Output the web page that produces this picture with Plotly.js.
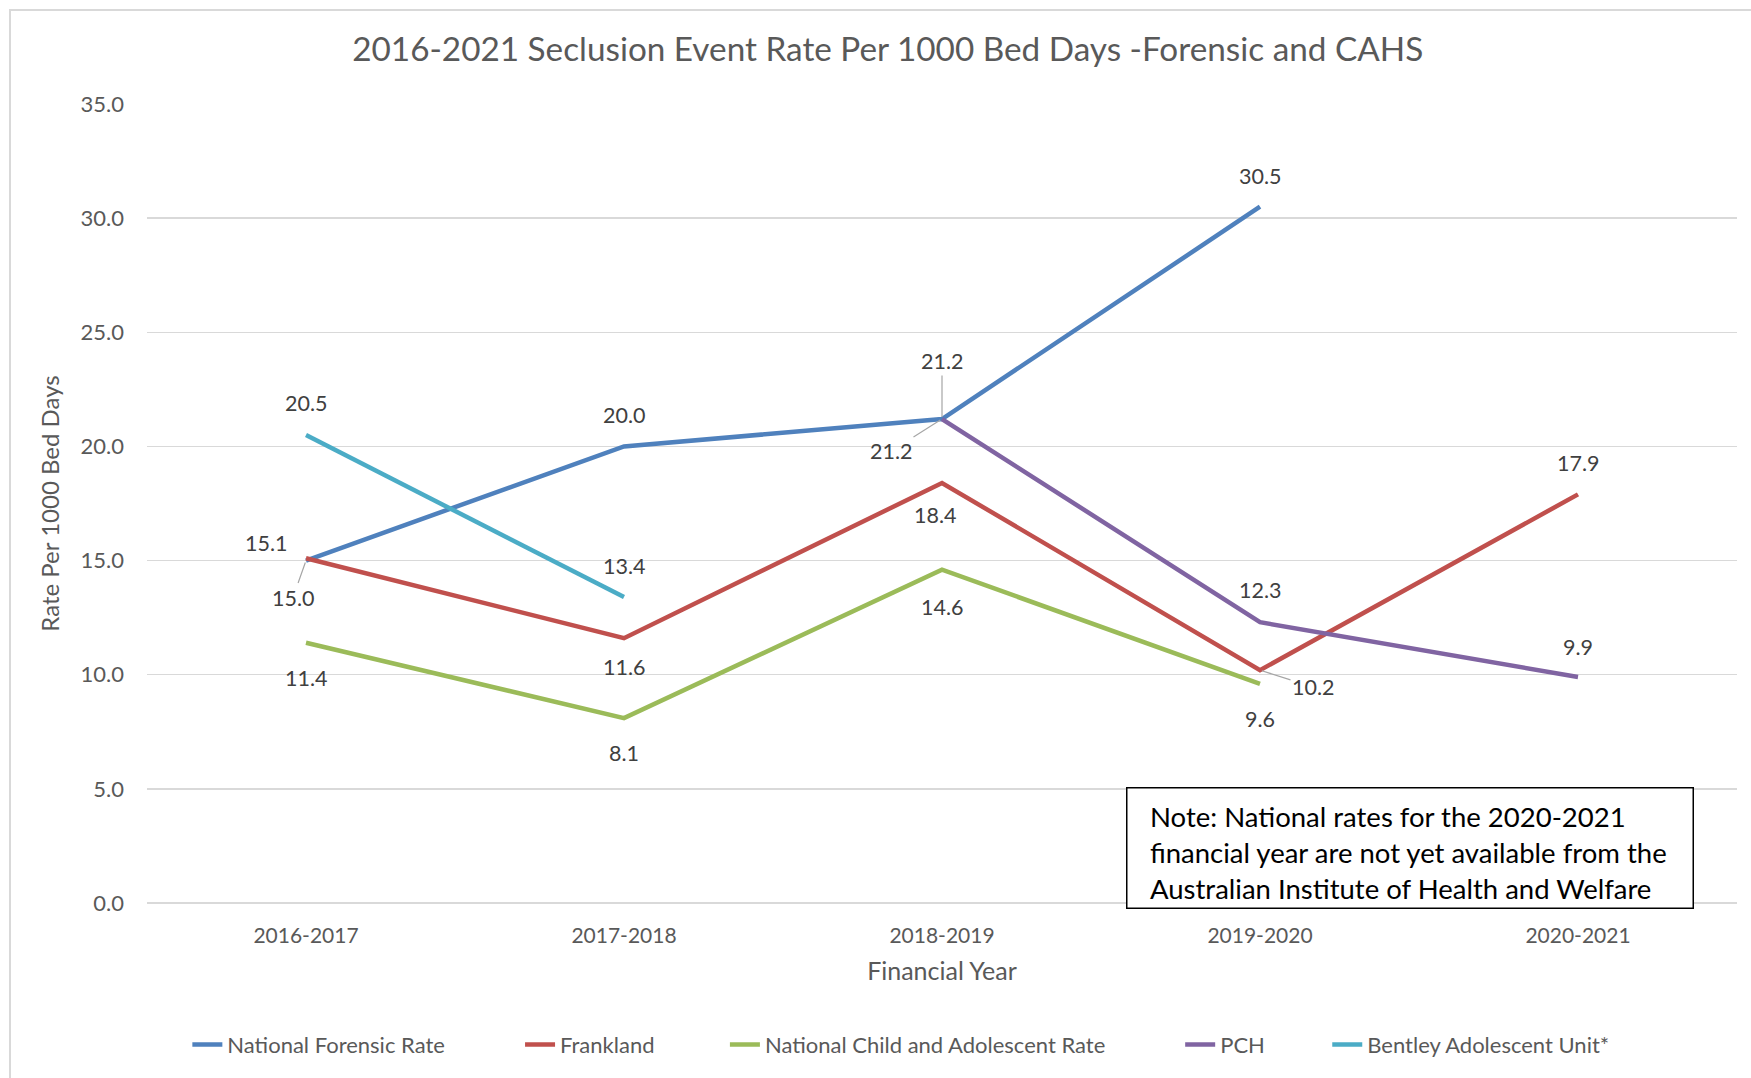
<!DOCTYPE html>
<html>
<head>
<meta charset="utf-8">
<script src="https://cdn.plot.ly/plotly-3.0.1.min.js"></script>
<style>
  html, body { margin: 0; padding: 0; background: #ffffff; }
  #wrap { position: relative; width: 1751px; height: 1078px; overflow: hidden; }
  #chart { width: 1751px; height: 1078px; }
  #frame { position: absolute; left: 9px; top: 9px; width: 1800px; height: 1200px;
           border: 2px solid #d9d9d9; box-sizing: border-box; pointer-events: none; }
</style>
</head>
<body>
<div id="wrap">
  <div id="chart"></div>
  <div id="frame"></div>
</div>
<script>
// ---- Data ----
const categories = ['2016-2017', '2017-2018', '2018-2019', '2019-2020', '2020-2021'];
const nationalForensicRate = [15.0, 20.0, 21.2, 30.5, null];
const frankland = [15.1, 11.6, 18.4, 10.2, 17.9];
const nationalChildAdolescentRate = [11.4, 8.1, 14.6, 9.6, null];
const pch = [null, null, 21.2, 12.3, 9.9];
const bentleyAdolescentUnit = [20.5, 13.4, null, null, null];
const seriesNames = ['National Forensic Rate', 'Frankland', 'National Child and Adolescent Rate', 'PCH', 'Bentley Adolescent Unit*'];
const titleText = '2016-2021 Seclusion Event Rate Per 1000 Bed Days -Forensic and CAHS';
const xTitle = 'Financial Year';
const yTitle = 'Rate Per 1000 Bed Days';
const noteText = 'Note: National rates for the 2020-2021<br>financial year are not yet available from the<br>Australian Institute of Health and Welfare';

// ---- Styles ----
const seriesValues = [nationalForensicRate, frankland, nationalChildAdolescentRate, pch, bentleyAdolescentUnit];
const colors = ['#4F81BD', '#C0504D', '#9BBB59', '#8064A2', '#4BACC6'];
const FONT = 'Lato, "Open Sans", sans-serif';
// left edge of each legend entry (fraction of the figure width)
const legendX = [0.107, 0.297, 0.414, 0.674, 0.758];

// label offsets in pixels [dx, dy(down), leader]
const labelOffsets = [
  [[-13, 37, true], [0, -31, false], [0, -58, true], [0, -31, false], null],
  [[-40, -15, false], [0, 29, false], [-7, 32, false], [53, 17, true], [0, -31, false]],
  [[0, 35, false], [0, 35, false], [0, 37, false], [0, 35, false], null],
  [null, null, [-51, 32, true], [0, -32, false], [0, -30, false]],
  [[0, -32, false], [0, -31, false], null, null, null]
];

const legendIds = ['legend', 'legend2', 'legend3', 'legend4', 'legend5'];

const traces = seriesValues.map((vals, i) => ({
  type: 'scatter',
  mode: 'lines',
  x: categories,
  y: vals,
  name: seriesNames[i],
  legend: legendIds[i],
  line: { color: colors[i], width: 4.5 },
  connectgaps: false,
  hoverinfo: 'skip'
}));

const annotations = [];
seriesValues.forEach((vals, i) => {
  vals.forEach((v, j) => {
    if (v === null || v === undefined) return;
    const off = labelOffsets[i][j];
    if (!off) return;
    const [dx, dy, leader] = off;
    const a = {
      x: j, y: v, xref: 'x', yref: 'y',
      text: v.toFixed(1),
      font: { family: FONT, size: 21.5, color: '#404040' }
    };
    if (leader) {
      a.showarrow = true;
      a.arrowhead = 0;
      a.arrowwidth = 1.2;
      a.arrowcolor = '#a6a6a6';
      a.ax = dx; a.ay = dy;
      a.standoff = 2;
    } else {
      a.showarrow = false;
      a.xshift = dx;
      a.yshift = -dy;
    }
    annotations.push(a);
  });
});

// note box (frame) and its text
annotations.push({
  xref: 'paper', yref: 'paper', x: 0.616, y: 0.145,
  xanchor: 'left', yanchor: 'top',
  text: ' ', showarrow: false,
  width: 565, height: 119,
  bordercolor: '#000000', borderwidth: 1.5, borderpad: 0,
  bgcolor: '#ffffff'
});
annotations.push({
  xref: 'paper', yref: 'paper', x: 0.6296, y: 0.0626,
  xanchor: 'left', yanchor: 'middle',
  text: noteText, showarrow: false, align: 'left',
  font: { family: FONT, size: 27.5, color: '#000000' }
});

const layout = {
  width: 1751, height: 1078,
  paper_bgcolor: '#ffffff', plot_bgcolor: '#ffffff',
  margin: { l: 147, r: 14, t: 104, b: 175 },
  title: {
    text: titleText,
    xref: 'container', x: 0.507, xanchor: 'center',
    yref: 'container', y: 0.9545, yanchor: 'middle',
    font: { family: FONT, size: 33.3, color: '#595959' }
  },
  xaxis: {
    type: 'category',
    range: [-0.5, categories.length - 0.5],
    showgrid: false, showline: false, zeroline: false,
    ticks: '', tickfont: { family: FONT, size: 21, color: '#595959' },
    ticklabelstandoff: 18,
    title: { text: xTitle, font: { family: FONT, size: 25, color: '#595959' }, standoff: 16 }
  },
  yaxis: {
    range: [0, 35], dtick: 5, tick0: 0, tickformat: '.1f',
    showgrid: true, gridcolor: '#d9d9d9', gridwidth: 1.5,
    zeroline: true, zerolinecolor: '#d9d9d9', zerolinewidth: 1.5,
    showline: false, ticks: '',
    ticklabelstandoff: 22,
    tickfont: { family: FONT, size: 22, color: '#595959' },
    title: { text: yTitle, font: { family: FONT, size: 24, color: '#595959' }, standoff: 14 }
  },
  showlegend: true,
  annotations: annotations
};

legendIds.forEach((id, i) => {
  layout[id] = {
    orientation: 'h',
    xref: 'container', x: legendX[i], xanchor: 'left',
    yref: 'container', y: 0.031, yanchor: 'middle',
    font: { family: FONT, size: 22, color: '#595959' },
    bgcolor: 'rgba(0,0,0,0)'
  };
});

Plotly.newPlot('chart', traces, layout, { displayModeBar: false, staticPlot: true });
</script>
</body>
</html>
